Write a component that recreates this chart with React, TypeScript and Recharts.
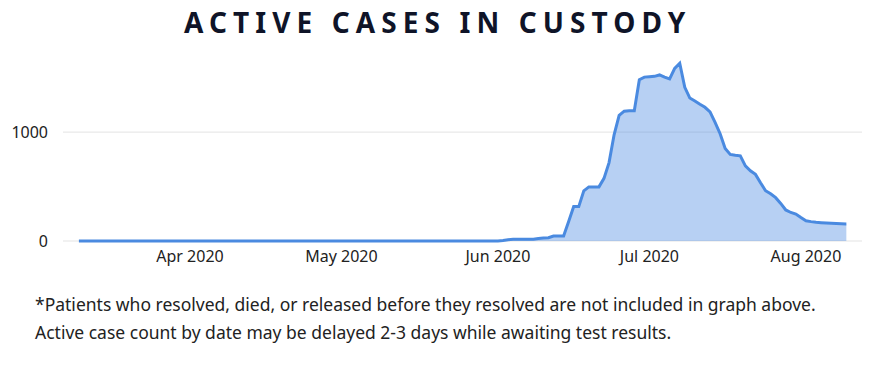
import React from "react";
import { AreaChart, Area, XAxis, YAxis, CartesianGrid } from "recharts";

// Day numbers counted from 1 Mar 2020 (day 0). Series runs 10 Mar (day 9) to 9 Aug (day 161).
const FIRST_DAY = 9;

// 10 Mar – 31 May 2020 (83 days)
const casesMarToMay = [
  0, 0, 0, 0, 0, 0, 0, 0, 0, 0, 0, 0, 0, 0, 0, 0, 0, 0, 0, 0, 0, 0,
  0, 0, 0, 0, 0, 0, 0, 0, 0, 0, 0, 0, 0, 0, 0, 0, 0, 0, 0, 0, 0, 0, 0, 0, 0, 0, 0, 0, 0, 0,
  0, 0, 0, 0, 0, 0, 0, 0, 0, 0, 0, 0, 0, 0, 0, 0, 0, 0, 0, 0, 0, 0, 0, 0, 0, 0, 0, 0, 0, 0, 0,
];

// 1 Jun – 30 Jun 2020
const casesJune = [
  0, 5, 12, 15, 15, 16, 16, 17, 22, 27, 30, 45, 46, 46, 178, 316, 316, 460, 497, 497,
  497, 575, 720, 975, 1153, 1192, 1196, 1196, 1481, 1505,
];

// 1 Jul – 31 Jul 2020
const casesJuly = [
  1508, 1512, 1525, 1505, 1488, 1585, 1632, 1411, 1313, 1285, 1255, 1228, 1185, 1090, 985,
  850, 795, 787, 782, 690, 645, 612, 535, 462, 433, 398, 345, 285, 262, 248, 215,
];

// 1 Aug – 9 Aug 2020
const casesAugust = [186, 178, 172, 168, 165, 163, 160, 158, 156];

const monthTickDays = [31, 61, 92, 122, 153];
const monthTickLabels = ["Apr 2020", "May 2020", "Jun 2020", "Jul 2020", "Aug 2020"];
const valueTicks = [0, 1000];

const allCases = [...casesMarToMay, ...casesJune, ...casesJuly, ...casesAugust];
const data = allCases.map((v, i) => ({ day: FIRST_DAY + i, cases: v }));

const LINE = "#4a8ae0";
const FONT = '"Noto Sans", sans-serif';

export default function App() {
  return (
    <div
      style={{
        position: "absolute",
        left: 0,
        top: 0,
        width: 896,
        height: 366,
        background: "#ffffff",
        fontFamily: FONT,
        overflow: "hidden",
      }}
    >
      <AreaChart
        width={896}
        height={280}
        data={data}
        margin={{ top: 45, right: 34, bottom: 9, left: 8 }}
        style={{ position: "absolute", left: 0, top: 0 }}
      >
        <CartesianGrid
          horizontal
          vertical={false}
          horizontalValues={valueTicks}
          stroke="#e3e3e3"
          strokeWidth={1}
        />
        <XAxis
          dataKey="day"
          type="number"
          domain={[5.85, 164.1]}
          allowDataOverflow
          ticks={monthTickDays}
          tickFormatter={(d: number) => monthTickLabels[monthTickDays.indexOf(d)] ?? ""}
          axisLine={false}
          tickLine={false}
          tickSize={0}
          tickMargin={10}
          height={30}
          tick={{ fill: "#222222", fontSize: 16, fontFamily: FONT }}
        />
        <YAxis
          type="number"
          domain={[0, 1800]}
          ticks={valueTicks}
          axisLine={false}
          tickLine={false}
          tickSize={0}
          tickMargin={15}
          width={55}
          tick={{ fill: "#222222", fontSize: 16, fontFamily: FONT }}
        />
        <Area
          type="linear"
          dataKey="cases"
          stroke={LINE}
          strokeWidth={3}
          fill={LINE}
          fillOpacity={0.4}
          isAnimationActive={false}
          dot={false}
          activeDot={false}
        />
      </AreaChart>

      <div
        style={{
          position: "absolute",
          left: 184,
          top: 8,
          fontSize: 28,
          lineHeight: "28px",
          fontWeight: 700,
          letterSpacing: "6.1px",
          color: "#0f1428",
          whiteSpace: "nowrap",
        }}
      >
        ACTIVE CASES IN CUSTODY
      </div>

      <div
        style={{
          position: "absolute",
          left: 35,
          top: 290,
          fontSize: 17.5,
          lineHeight: "28px",
          color: "#222222",
          whiteSpace: "nowrap",
        }}
      >
        <div>*Patients who resolved, died, or released before they resolved are not included in graph above.</div>
        <div>Active case count by date may be delayed 2-3 days while awaiting test results.</div>
      </div>
    </div>
  );
}
